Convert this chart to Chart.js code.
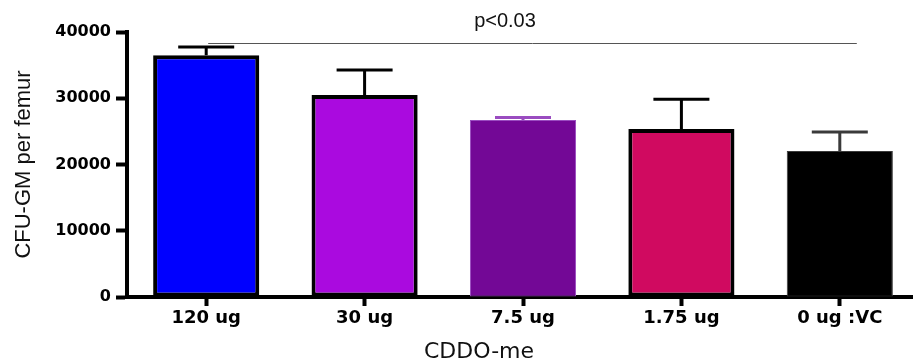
<!DOCTYPE html>
<html>
<head>
<meta charset="utf-8">
<script src="https://cdn.jsdelivr.net/npm/chart.js@4/dist/chart.umd.min.js"></script>
<style>
  html, body { margin: 0; padding: 0; background: #fff; overflow: hidden; }
  canvas { display: block; }
</style>
</head>
<body>
<canvas id="cfuChart" width="925" height="364"></canvas>
<script>
// doses de CDDO-me et colonies CFU-GM par fémur
const doses = ['120 ug', '30 ug', '7.5 ug', '1.75 ug', '0 ug :VC']
const cfuMeans = [36500, 30500, 26700, 25350, 22050]
const cfuErrors = [1250, 3750, 400, 4500, 2850]
const yTicks = [0, 10000, 20000, 30000, 40000]
const barColors = ['#0000ff', '#aa0adf', '#730896', '#d00a60', '#000000']
const barBorders = ['#000000', '#000000', '#9a4cc0', '#000000', '#3a3a3a']
const barBorderWidths = [4, 4, 1, 4, 1]

const wideBold = '"DejaVu Sans", Verdana, sans-serif'
const plain = '"Liberation Sans", Arial, sans-serif'

// barres d'erreur (seulement vers le haut)
const errorBars = {
    id: 'errorBars',
    afterDatasetsDraw(chart) {
        const ctx = chart.ctx
        const y = chart.scales.y
        const meta = chart.getDatasetMeta(0)
        meta.data.forEach((bar, i) => {
            const top = y.getPixelForValue(cfuMeans[i])
            const tip = y.getPixelForValue(cfuMeans[i] + cfuErrors[i])
            ctx.save()
            ctx.strokeStyle = barBorderWidths[i] > 1 ? '#000' : barBorders[i]
            ctx.lineWidth = 3
            ctx.beginPath()
            ctx.moveTo(bar.x, top)
            ctx.lineTo(bar.x, tip)
            ctx.moveTo(bar.x - 28, tip)
            ctx.lineTo(bar.x + 28, tip)
            ctx.stroke()
            ctx.restore()
        })
    }
}

// ligne de significativité + titre de l'axe x
const extras = {
    id: 'extras',
    afterDraw(chart) {
        const ctx = chart.ctx
        const x = chart.scales.x
        const y = chart.scales.y
        const lineY = Math.round(y.getPixelForValue(38400)) + 0.5
        ctx.save()
        ctx.strokeStyle = '#555'
        ctx.lineWidth = 1
        ctx.beginPath()
        ctx.moveTo(x.getPixelForValue(0) + 2, lineY)
        ctx.lineTo(x.getPixelForValue(4) + 17, lineY)
        ctx.stroke()

        ctx.fillStyle = '#111'
        ctx.font = '20px ' + plain
        ctx.textAlign = 'center'
        ctx.textBaseline = 'middle'
        ctx.fillText('p<0.03', 505, 21)

        ctx.font = '22px "DejaVu Sans", sans-serif'
        ctx.fillText('CDDO-me', 479, 352)
        ctx.restore()
    }
}

const chart = new Chart(document.getElementById('cfuChart'), {
    type: 'bar',
    data: {
        labels: doses,
        datasets: [{
            data: cfuMeans,
            backgroundColor: barColors,
            borderColor: barBorders,
            borderWidth: barBorderWidths,
            borderSkipped: false,
            barPercentage: 0.67,
            categoryPercentage: 1
        }]
    },
    options: {
        responsive: false,
        animation: false,
        layout: { padding: { top: 32, right: 6, left: 0, bottom: 0 } },
        plugins: {
            legend: { display: false },
            tooltip: { enabled: false }
        },
        scales: {
            x: {
                grid: {
                    offset: false,
                    drawOnChartArea: false,
                    drawTicks: true,
                    tickLength: 9,
                    tickWidth: 4,
                    tickColor: '#000'
                },
                border: { display: true, color: '#000', width: 4 },
                ticks: {
                    color: '#000',
                    padding: 2,
                    font: { family: wideBold, size: 18, weight: 'bold' }
                },
                afterFit(scale) { scale.height = 67 }
            },
            y: {
                min: 0,
                max: 40000,
                afterBuildTicks(scale) { scale.ticks = yTicks.map(v => ({ value: v })) },
                grid: {
                    drawOnChartArea: false,
                    drawTicks: true,
                    tickLength: 11,
                    tickWidth: 4,
                    tickColor: '#000'
                },
                border: { display: true, color: '#000', width: 4 },
                ticks: {
                    color: '#000',
                    padding: 5,
                    callback: v => String(v),
                    font: { family: wideBold, size: 16, weight: 'bold' }
                },
                title: {
                    display: true,
                    text: 'CFU-GM per femur',
                    color: '#111',
                    padding: { top: 11, bottom: 0 },
                    font: { family: plain, size: 22 }
                },
                afterFit(scale) { scale.width = 127 }
            }
        }
    },
    plugins: [errorBars, extras]
})
</script>
</body>
</html>
